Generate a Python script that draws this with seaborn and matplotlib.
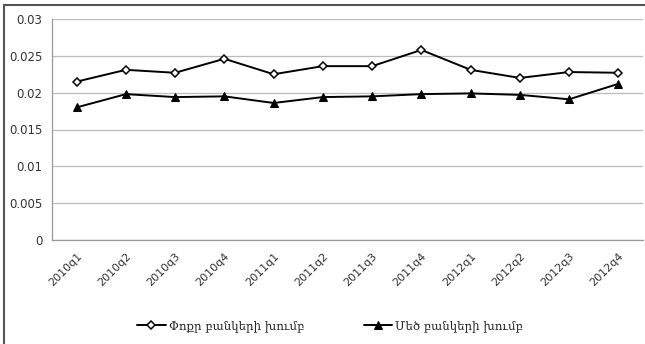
import pandas as pd
import seaborn as sns
import matplotlib.pyplot as plt
from matplotlib.patches import Rectangle

# Data
quarters = ["2010q1", "2010q2", "2010q3", "2010q4",
            "2011q1", "2011q2", "2011q3", "2011q4",
            "2012q1", "2012q2", "2012q3", "2012q4"]
small_banks = [0.0215, 0.0231, 0.0227, 0.0246, 0.0225, 0.0236,
               0.0236, 0.0258, 0.0231, 0.0220, 0.0228, 0.0227]
large_banks = [0.0180, 0.0198, 0.0194, 0.0195, 0.0186, 0.0194,
               0.0195, 0.0198, 0.0199, 0.0197, 0.0191, 0.0212]
small_label = "Փոքր բանկերի խումբ"
large_label = "Մեծ բանկերի խումբ"
y_ticks = [0, 0.005, 0.01, 0.015, 0.02, 0.025, 0.03]
y_tick_labels = ["0", "0.005", "0.01", "0.015", "0.02", "0.025", "0.03"]

df = pd.DataFrame({"pos": range(len(quarters)),
                   "small": small_banks,
                   "large": large_banks})

sns.set_theme(style="white")
plt.rcParams['font.family'] = ['DejaVu Sans']

fig = plt.figure(figsize=(6.45, 3.44), dpi=100)
ax = fig.add_axes([52 / 645, 1 - 240 / 344, (643 - 52) / 645, (240 - 19) / 344])

sns.lineplot(data=df, x="pos", y="small", ax=ax, color="black", linewidth=1.4,
             marker="D", markersize=4.5, markerfacecolor="white",
             markeredgecolor="black", markeredgewidth=1.1, label=small_label)
sns.lineplot(data=df, x="pos", y="large", ax=ax, color="black", linewidth=1.4,
             marker="^", markersize=6, markerfacecolor="black",
             markeredgecolor="black", label=large_label)

# axes look
ax.set_xlim(-0.5, len(quarters) - 0.5)
ax.set_ylim(0, 0.03)
ax.set_yticks(y_ticks)
ax.set_yticklabels(y_tick_labels, fontsize=8.5, color="#333333")
ax.set_xticks(range(len(quarters)))
ax.set_xticklabels(quarters, rotation=45, ha="right", rotation_mode="anchor",
                   fontsize=8, color="#333333")
ax.set_xticks([i - 0.5 for i in range(len(quarters) + 1)], minor=True)
ax.tick_params(axis="x", which="major", length=0, pad=8)
ax.tick_params(axis="x", which="minor", length=4, color="#999999", width=0.8)
ax.tick_params(axis="y", length=4, color="#999999", width=0.8, pad=3)
ax.set_xlabel("")
ax.set_ylabel("")
ax.grid(axis="y", color="#bbbbbb", linewidth=0.9)
for side in ["top", "right"]:
    ax.spines[side].set_visible(False)
for side in ["left", "bottom"]:
    ax.spines[side].set_color("#999999")
    ax.spines[side].set_linewidth(0.9)

ax.get_legend().remove()
handles, labels = ax.get_legend_handles_labels()
fig.legend(handles, labels, loc="center", bbox_to_anchor=(0.512, 1 - 326 / 344),
           ncol=2, frameon=False, columnspacing=5, handlelength=2.4,
           handletextpad=0.3, markerscale=0.9,
           prop={"family": ["DejaVu Serif", "DejaVu Sans"], "size": 8.5})

# outer frame of the chart
fig.patches.append(Rectangle((4 / 645, -0.02), 1.05, 1 - 5 / 344 + 0.02,
                             transform=fig.transFigure, fill=False,
                             edgecolor="#555555", linewidth=1.5))

fig.savefig("out.png", dpi=100)
